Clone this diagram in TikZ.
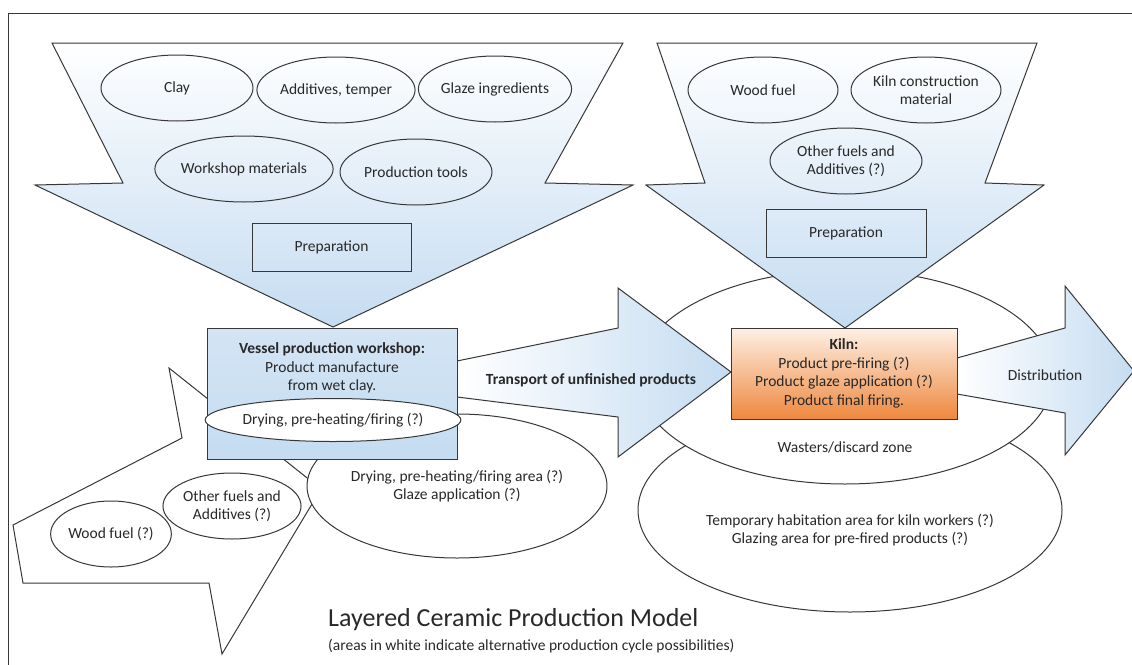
\documentclass[tikz,border=0pt]{standalone}
\usepackage{fontspec}
\setmainfont{Carlito}
\usetikzlibrary{shapes.geometric}

\definecolor{arrowblue}{RGB}{197,220,241}
\definecolor{kilntop}{RGB}{254,240,228}
\definecolor{kilnbot}{RGB}{238,136,62}
\definecolor{txt}{RGB}{40,40,40}
\definecolor{edge}{RGB}{55,55,55}

\begin{document}
\begin{tikzpicture}[x=1pt, y=-1pt, font=\fontsize{15.5}{18.5}\selectfont,
   every node/.style={align=center, text=txt},
   outline/.style={draw=edge, line width=1pt},
   inputoval/.style={ellipse, outline, inner sep=0pt, minimum width=152pt, minimum height=66pt},
   areaoval/.style={ellipse, outline, fill=white, inner sep=0pt},
   prepbox/.style={rectangle, outline, minimum width=159pt, minimum height=48pt},
   downarrow/.style={outline, top color=white, bottom color=arrowblue},
   sidearrow/.style={outline, left color=white, right color=arrowblue}]
   \useasboundingbox (0,0) rectangle (1132,664);
   \draw[edge, line width=1pt] (8,13) rectangle (1200,720);

   \node[areaoval, minimum width=424pt, minimum height=204pt] (habitation) at (850,510) {};
   \node[areaoval, minimum width=416pt, minimum height=214pt] (wasters) at (845,377) {};

   \draw[outline, fill=white] (169,368) -- (321,489) -- (222,654) -- (209,583) -- (23,583) -- (13,525) -- (182,438) -- cycle;
   \node[areaoval, minimum width=274pt, minimum height=144pt] (dryarea) at (457,486) {Drying, pre-heating/firing area (?)\\Glaze application (?)};

   \shade[downarrow] (52,43) -- (623,43) -- (545,183) -- (633,185) -- (333,327) -- (35,185) -- (123,183) -- cycle;
   \shade[downarrow] (657,43) -- (1037,43) -- (985,183) -- (1044,185) -- (845,328) -- (646,185) -- (705,183) -- cycle;
   \shade[sidearrow] (457,361) -- (618,328) -- (618,288) -- (731,372) -- (618,457) -- (618,417) -- (457,397) -- cycle;
   \shade[sidearrow] (957,358) -- (1065,328) -- (1065,286) -- (1134,371) -- (1065,455) -- (1065,413) -- (957,394) -- cycle;

   \node[rectangle, outline, top color=arrowblue!75, middle color=arrowblue!25, bottom color=arrowblue, minimum width=250pt, minimum height=131pt] (vessel) at (332,393.5) {};
   \node (vesseltext) at (332,368) {\textbf{Vessel production workshop:}\\Product manufacture\\from wet clay.};
   \node[ellipse, outline, fill=white, inner sep=0pt, minimum width=222pt, minimum height=43pt] (dryoven) at (333,420) {Drying, pre-heating/firing (?)};

   \node[rectangle, outline, top color=kilntop, bottom color=kilnbot, minimum width=226pt, minimum height=91pt] (kiln) at (844,373.5) {\textbf{Kiln:}\\Product pre-firing (?)\\Product glaze application (?)\\Product final firing.};

   \node[inputoval] (clay) at (177,88) {Clay};
   \node[inputoval] (additives) at (336,90) {Additives, temper};
   \node[inputoval] (glaze) at (495,89) {Glaze ingredients};
   \node[inputoval] (workshop) at (244,169) {Workshop materials};
   \node[inputoval] (tools) at (416,172) {Production tools};
   \node[prepbox] (prepvessel) at (331.5,247) {Preparation};

   \node[inputoval, minimum width=150pt] (woodfuel) at (763,90) {Wood fuel};
   \node[inputoval, minimum width=150pt] (kilnmat) at (926,90) {Kiln construction\\material};
   \node[inputoval] (otherfuel) at (846,161) {Other fuels and\\Additives (?)};
   \node[prepbox, minimum width=160pt] (prepkiln) at (846,233) {Preparation};

   \node[inputoval, minimum width=111pt, minimum height=66pt] (woodfuelws) at (111,534) {Wood fuel (?)};
   \node[inputoval, minimum width=116pt] (otherfuelws) at (232,506) {Other fuels and\\Additives (?)};

   \node (transport) at (591,380) {\textbf{Transport of unfinished products}};
   \node (distribution) at (1045,375) {Distribution};
   \node (wastertext) at (845,447) {Wasters/discard zone};
   \node (habtext) at (850,530) {Temporary habitation area for kiln workers (?)\\Glazing area for pre-fired products (?)};

   \node[anchor=west, inner sep=0pt] (title) at (328,620) {\fontsize{26}{30}\selectfont Layered Ceramic Production Model};
   \node[anchor=west, inner sep=0pt] (subtitle) at (328,646) {(areas in white indicate alternative production cycle possibilities)};
\end{tikzpicture}
\end{document}
